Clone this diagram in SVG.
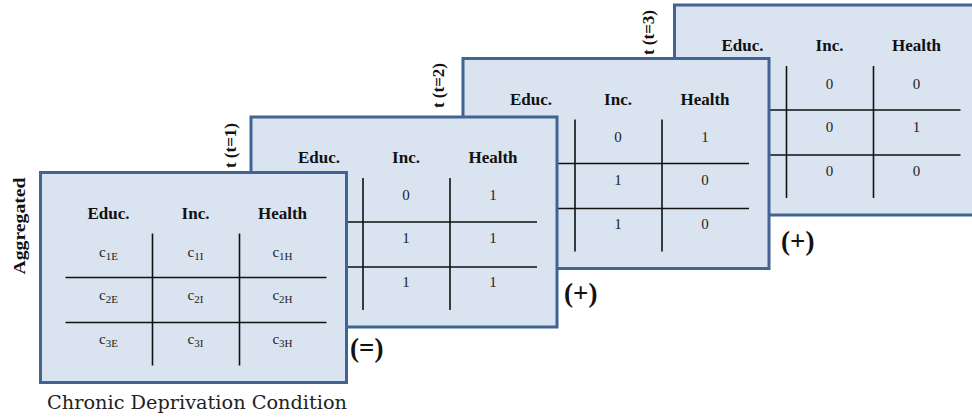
<svg xmlns="http://www.w3.org/2000/svg" xmlns:xlink="http://www.w3.org/1999/xlink" width="972" height="418" viewBox="0 0 972 418">
<style>
.frame{fill:#dae4f0;stroke:#416494;stroke-width:3}
.grid{stroke:#111;stroke-width:1.6;fill:none}
.hd{font-family:"Liberation Serif",serif;font-weight:bold;font-size:17px;fill:#111;text-anchor:middle}
.num{font-family:"Liberation Serif",serif;font-size:15px;fill:#222;text-anchor:middle}
.sub{font-size:11px}
.lbl{font-family:"Liberation Serif",serif;font-weight:bold;font-size:17px;fill:#111}
.op{font-family:"Liberation Serif",serif;font-weight:bold;font-size:27px;fill:#111}
.cap{font-family:"DejaVu Serif",serif;font-size:19px;fill:#222;text-anchor:middle}
</style>
<defs>
<g id="panel">
<rect class="frame" x="0" y="0" width="306" height="210"/>
<path class="grid" d="M112 61V193M199 61V193M25 105H286M25 150H286"/>
<text class="hd" x="68" y="46">Educ.</text>
<text class="hd" x="155" y="46">Inc.</text>
<text class="hd" x="242" y="46">Health</text>
</g>
</defs>
<g id="connectors"></g>
<g id="label-t3"><text class="lbl" transform="translate(654,10) rotate(-90)" text-anchor="end">t (t=3)</text></g>
<g id="panel-t3" transform="translate(674.5,5)">
<use xlink:href="#panel"/>
<text class="num" x="155" y="84">0</text><text class="num" x="242" y="84">0</text>
<text class="num" x="155" y="127">0</text><text class="num" x="242" y="127">1</text>
<text class="num" x="155" y="171">0</text><text class="num" x="242" y="171">0</text>
</g>
<g id="op-plus2"><text class="op" x="781" y="250">(+)</text></g>
<g id="label-t2"><text class="lbl" transform="translate(444,63) rotate(-90)" text-anchor="end">t (t=2)</text></g>
<g id="panel-t2" transform="translate(463,58.5)">
<use xlink:href="#panel"/>
<text class="num" x="155" y="83">0</text><text class="num" x="242" y="83">1</text>
<text class="num" x="155" y="126">1</text><text class="num" x="242" y="126">0</text>
<text class="num" x="155" y="170">1</text><text class="num" x="242" y="170">0</text>
</g>
<g id="op-plus1"><text class="op" x="564" y="302">(+)</text></g>
<g id="label-t1"><text class="lbl" transform="translate(236,123) rotate(-90)" text-anchor="end">t (t=1)</text></g>
<g id="panel-t1" transform="translate(251,117)">
<use xlink:href="#panel"/>
<text class="num" x="155" y="83">0</text><text class="num" x="242" y="83">1</text>
<text class="num" x="155" y="126">1</text><text class="num" x="242" y="126">1</text>
<text class="num" x="155" y="170">1</text><text class="num" x="242" y="170">1</text>
</g>
<g id="op-eq"><text class="op" x="350" y="357">(=)</text></g>
<g id="label-agg"><text class="lbl" transform="translate(25,226) rotate(-90)" text-anchor="middle" font-size="18" textLength="97" lengthAdjust="spacingAndGlyphs">Aggregated</text></g>
<g id="panel-agg" transform="translate(40.5,172.5)">
<use xlink:href="#panel"/>
<text class="num" x="68" y="84">c<tspan class="sub" dy="3">1E</tspan></text>
<text class="num" x="155" y="84">c<tspan class="sub" dy="3">1I</tspan></text>
<text class="num" x="242" y="84">c<tspan class="sub" dy="3">1H</tspan></text>
<text class="num" x="68" y="127">c<tspan class="sub" dy="3">2E</tspan></text>
<text class="num" x="155" y="127">c<tspan class="sub" dy="3">2I</tspan></text>
<text class="num" x="242" y="127">c<tspan class="sub" dy="3">2H</tspan></text>
<text class="num" x="68" y="171">c<tspan class="sub" dy="3">3E</tspan></text>
<text class="num" x="155" y="171">c<tspan class="sub" dy="3">3I</tspan></text>
<text class="num" x="242" y="171">c<tspan class="sub" dy="3">3H</tspan></text>
</g>
<g id="caption"><text class="cap" x="197" y="409" textLength="300" lengthAdjust="spacingAndGlyphs">Chronic Deprivation Condition</text></g>
</svg>
